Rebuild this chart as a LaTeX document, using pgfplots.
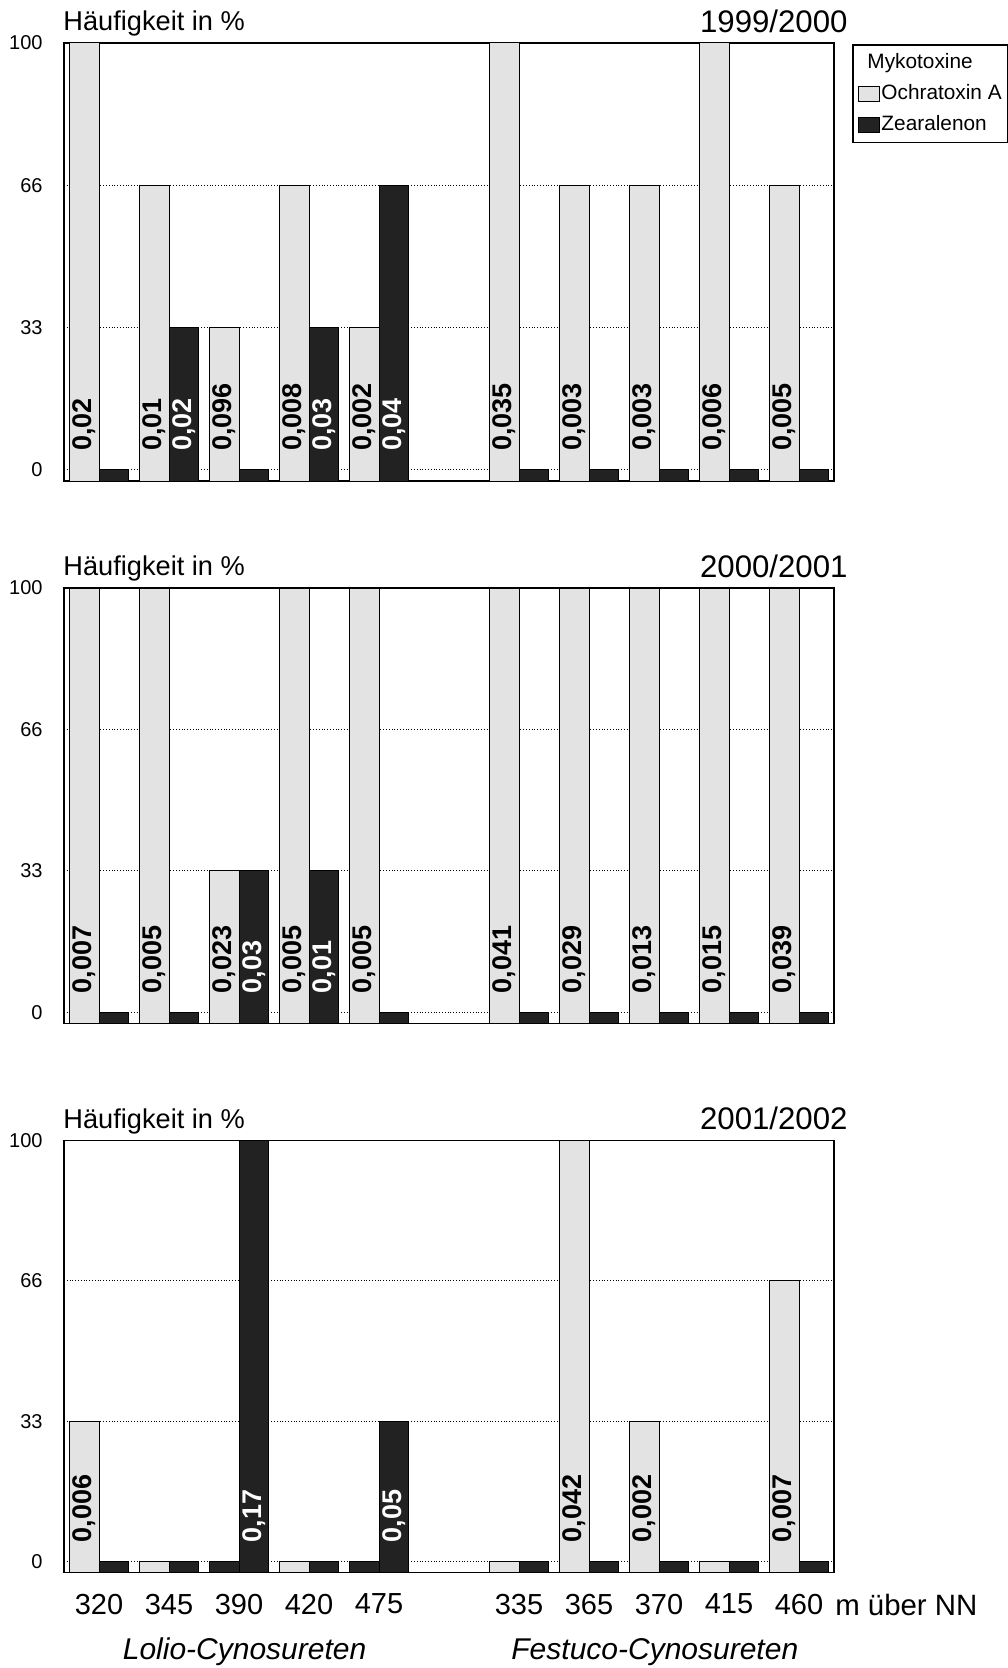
\documentclass[border=0pt]{standalone}
\usepackage{fontspec}
\setmainfont{Liberation Sans}
\usepackage{graphicx}
\usepackage{pgfplots}
\usepackage{pgfplotstable}
\pgfplotsset{compat=1.18}
\definecolor{lightbar}{HTML}{E3E3E3}
\definecolor{darkbar}{HTML}{222222}

% x: slot (0-4 Lolio, 6-10 Festuco); o: Ochratoxin A (%), z: Zearalenon (%)
\pgfplotstableread{
x o z ol zl
0 100 0 {0,02} {}
1 66.67 33.33 {0,01} {0,02}
2 33.33 0 {0,096} {}
3 66.67 33.33 {0,008} {0,03}
4 33.33 66.67 {0,002} {0,04}
6 100 0 {0,035} {}
7 66.67 0 {0,003} {}
8 66.67 0 {0,003} {}
9 100 0 {0,006} {}
10 66.67 0 {0,005} {}
}\tabA
\pgfplotstableread{
x o z ol zl
0 100 0 {0,007} {}
1 100 0 {0,005} {}
2 33.33 33.33 {0,023} {0,03}
3 100 33.33 {0,005} {0,01}
4 100 0 {0,005} {}
6 100 0 {0,041} {}
7 100 0 {0,029} {}
8 100 0 {0,013} {}
9 100 0 {0,015} {}
10 100 0 {0,039} {}
}\tabB
\pgfplotstableread{
x o z ol zl
0 33.33 0 {0,006} {}
1 0 0 {} {}
3 0 0 {} {}
4 0 33.33 {} {0,05}
6 0 0 {} {}
7 100 0 {0,042} {}
8 33.33 0 {0,002} {}
9 0 0 {} {}
10 66.67 0 {0,007} {}
}\tabC
\pgfplotstableread{
x o z ol zl
2 0 100 {} {0,17}
4 0 33.33 {} {0,05}
}\tabCdark

\tikzset{
  hl/.style={anchor=base west, font=\fontsize{13.6}{15}\selectfont},
  yr/.style={anchor=base east, font=\fontsize{15.6}{17}\selectfont},
}
\pgfplotsset{
  panel/.style={
    scale only axis, width=385pt, anchor=north west,
    xmin=-0.5, xmax=10.5, ymin=0, ymax=102.6,
    ytick={2.6,35.93,69.27,102.6}, yticklabels={0,33,66,100},
    ymajorgrids, grid style={black, densely dotted, line width=0.5pt},
    axis line style={line width=0.7pt},
    tick style={draw=none},
    yticklabel style={font=\fontsize{10}{12}\selectfont, xshift=-7.2pt},
    clip=false,
    /pgf/number format/assume math mode=true,
  },
  obar/.style={ybar, bar width=14.75pt, bar shift=-7.375pt, fill=lightbar, draw=black, line width=0.5pt},
  zbar/.style={ybar, bar width=14.75pt, bar shift=7.375pt, fill=darkbar, draw=black, line width=0.5pt},
  lab/.style={draw=none, mark=none, forget plot,
    nodes near coords={\rotatebox{90}{\pgfplotspointmeta}},
    point meta=explicit symbolic,
    every node near coord/.append style={inner sep=0pt, text=#1,
      font=\bfseries\fontsize{13.5}{14}\selectfont}},
}

\begin{document}
\begin{tikzpicture}
\useasboundingbox (0,0) rectangle (503.5pt,-834pt);

% ---------- 1999/2000 ----------
\begin{axis}[panel, at={(32pt,-21.5pt)}, height=219pt, xtick=\empty,
  legend style={at={(rel axis cs:1.0236,0.9966)}, anchor=north west,
    draw=black, line width=0.7pt, font=\fontsize{10.4}{12}\selectfont,
    inner xsep=2.4pt, inner ysep=3pt, row sep=3.8pt,
    nodes={inner sep=0.6pt, text height=8pt, text depth=2.5pt}},
  legend cell align=left,
  legend image code/.code={\draw[#1, line width=0.5pt] (0pt,-3.75pt) rectangle (10.8pt,3.75pt);},
]
\addlegendimage{empty legend}
\addlegendentry{\hspace*{-7pt}Mykotoxine}
\addplot[obar] table[x=x, y expr=\thisrow{o}+2.6] {\tabA};
\addlegendentry{Ochratoxin A}
\addplot[zbar] table[x=x, y expr=\thisrow{z}+2.6] {\tabA};
\addlegendentry{Zearalenon}
\addplot[lab=black] table[x expr=\thisrow{x}-0.21, y expr=7.0, meta=ol] {\tabA};
\addplot[lab=white] table[x expr=\thisrow{x}+0.21, y expr=7.0, meta=zl] {\tabA};
\node[hl] at (rel axis cs:0,1) [yshift=6.15pt, xshift=-3.8pt] {Häufigkeit in \%};
\node[yr] at (rel axis cs:1,1) [yshift=5.4pt, xshift=10.3pt] {1999/2000};
\end{axis}

% ---------- 2000/2001 ----------
\begin{axis}[panel, at={(32pt,-294pt)}, height=217.7pt, xtick=\empty]
\addplot[obar, forget plot] table[x=x, y expr=\thisrow{o}+2.6] {\tabB};
\addplot[zbar, forget plot] table[x=x, y expr=\thisrow{z}+2.6] {\tabB};
\addplot[lab=black] table[x expr=\thisrow{x}-0.21, y expr=7.0, meta=ol] {\tabB};
\addplot[lab=white] table[x expr=\thisrow{x}+0.21, y expr=7.0, meta=zl] {\tabB};
\node[hl] at (rel axis cs:0,1) [yshift=6.15pt, xshift=-3.8pt] {Häufigkeit in \%};
\node[yr] at (rel axis cs:1,1) [yshift=5.4pt, xshift=10.3pt] {2000/2001};
\end{axis}

% ---------- 2001/2002 ----------
\begin{axis}[panel, at={(32pt,-570.35pt)}, height=215.8pt,
  xtick={0,1,2,3,4,6,7,8,9,10},
  xticklabels={320,345,390,420,475,335,365,370,415,460},
  xticklabel style={font=\fontsize{14.5}{16}\selectfont, yshift=-7.2pt},
]
\addplot[obar, forget plot] table[x=x, y expr=\thisrow{o}+2.6] {\tabC};
\addplot[obar, fill=darkbar, forget plot] table[x=x, y expr=\thisrow{o}+2.6] {\tabCdark};
\addplot[zbar, forget plot] table[x=x, y expr=\thisrow{z}+2.6] {\tabC};
\addplot[zbar, forget plot] table[x=x, y expr=\thisrow{z}+2.6] {\tabCdark};
\addplot[lab=black] table[x expr=\thisrow{x}-0.21, y expr=7.0, meta=ol] {\tabC};
\addplot[lab=white] table[x expr=\thisrow{x}+0.21, y expr=7.0, meta=zl] {\tabCdark};
\node[hl] at (rel axis cs:0,1) [yshift=6.15pt, xshift=-3.8pt] {Häufigkeit in \%};
\node[yr] at (rel axis cs:1,1) [yshift=5.4pt, xshift=10.3pt] {2001/2002};
\node[anchor=base west, font=\fontsize{14.7}{16}\selectfont] at (rel axis cs:1,0) [xshift=-2.9pt, yshift=-21.35pt] {m über NN};
\node[anchor=base, font=\itshape\fontsize{15}{17}\selectfont] at (axis cs:2.08,0) [yshift=-43.35pt] {Lolio-Cynosureten};
\node[anchor=base, font=\itshape\fontsize{15}{17}\selectfont] at (axis cs:7.94,0) [yshift=-43.35pt] {Festuco-Cynosureten};
\end{axis}
\end{tikzpicture}
\end{document}
